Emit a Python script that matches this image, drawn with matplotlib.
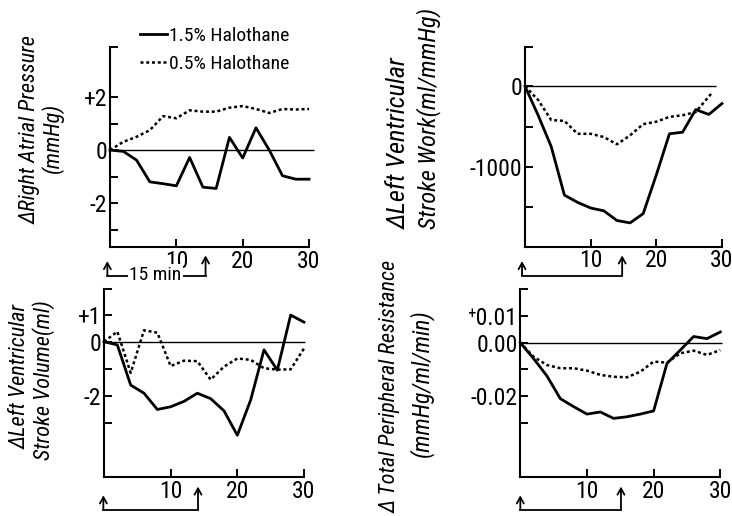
import matplotlib.pyplot as plt
from matplotlib.transforms import blended_transform_factory

plt.rcParams['font.family'] = ['Roboto Condensed', 'DejaVu Sans']

# minutes after start of halothane
minutes = [0, 2, 4, 6, 8, 10, 12, 14, 16, 18, 20, 22, 24, 26, 28, 30]
minutes_lvsw_low = [0, 2, 4, 6, 8, 10, 12, 14, 16, 18, 20, 22, 24, 26, 28.5]

# right atrial pressure (mmHg)
rap_high = [0, -0.05, -0.38, -1.2, -1.27, -1.35, -0.28, -1.4, -1.45, 0.48, -0.3, 0.84, 0.0, -0.97, -1.1, -1.1]
rap_low = [0, 0.31, 0.5, 0.75, 1.28, 1.2, 1.5, 1.45, 1.45, 1.6, 1.66, 1.55, 1.4, 1.55, 1.53, 1.55]

# left ventricular stroke work (ml/mmHg)
lvsw_high = [0, -360, -750, -1350, -1440, -1510, -1545, -1665, -1695, -1580, -1100, -590, -570, -290, -350, -215]
lvsw_low = [0, -170, -420, -430, -590, -590, -630, -720, -610, -470, -440, -380, -360, -320, -80]

# left ventricular stroke volume (ml)
lvsv_high = [0, -0.12, -1.6, -1.9, -2.5, -2.4, -2.2, -1.9, -2.1, -2.55, -3.45, -2.15, -0.3, -1.05, 0.98, 0.72]
lvsv_low = [0, 0.37, -1.15, 0.42, 0.33, -0.9, -0.7, -0.72, -1.4, -0.92, -0.62, -0.67, -0.98, -1.03, -1.02, -0.25]

# total peripheral resistance (mmHg/ml/min)
tpr_high = [0, -0.006, -0.0125, -0.021, -0.024, -0.0268, -0.026, -0.0284, -0.0278, -0.0268, -0.0256, -0.0078, -0.0028, 0.0023, 0.0015, 0.004]
tpr_low = [0, -0.0053, -0.0084, -0.0096, -0.0096, -0.0105, -0.0121, -0.0128, -0.013, -0.0109, -0.0071, -0.0075, -0.004, -0.003, -0.0046, -0.0028]

xtick_vals = [10, 20, 30]
xtick_labels = ['10', '20', '30']

fig = plt.figure(figsize=(7.32, 5.16), dpi=100)

panels = [
    dict(rect=[0.1503, 0.5213, 0.2719, 0.3876], ylim=(-3.66, 3.89),
         x_low=minutes, high=rap_high, low=rap_low,
         yt=[2, 0, -2], ytl=['+2', '0', '-2'], ym=[1, -1, -3, 3.89], zero_end=30.8,
         arrows=(-0.4, 14.4)),
    dict(rect=[0.7172, 0.5219, 0.2691, 0.3876], ylim=(-1990, 490),
         x_low=minutes_lvsw_low, high=lvsw_high, low=lvsw_low,
         yt=[0, -1000], ytl=['0', '-1000'], ym=[-500, -1500, 490], zero_end=29.1,
         arrows=(-0.45, 14.8)),
    dict(rect=[0.1421, 0.075, 0.2732, 0.3643], ylim=(-5.0, 1.93),
         x_low=minutes, high=lvsv_high, low=lvsv_low,
         yt=[1, 0, -2], ytl=['+1', '0', '-2'], ym=[-1, -3, 1.93], zero_end=30.2,
         arrows=(-0.1, 14.1)),
    dict(rect=[0.7108, 0.075, 0.2732, 0.3643], ylim=(-0.0505, 0.02),
         x_low=minutes, high=tpr_high, low=tpr_low,
         yt=[0.01, 0.0, -0.02], ytl=['\u207a0.01', '0.00', '-0.02'], ym=[-0.01, -0.03, 0.02], zero_end=30.25,
         arrows=(0.0, 15.1)),
]

axes = []
for i, p in enumerate(panels):
    ax = fig.add_axes(p['rect'])
    ax.plot(minutes, p['high'], color='black', lw=2.0, clip_on=False,
            label='1.5% Halothane')
    ax.plot(p['x_low'], p['low'], color='black', lw=1.8, ls=(0, (1.2, 1.1)),
            clip_on=False, label='0.5% Halothane')
    ax.hlines(0, 0, p['zero_end'], color='black', lw=1.0, clip_on=False)
    ax.set_xlim(0, 30)
    ax.set_ylim(*p['ylim'])
    ax.set_xticks(xtick_vals)
    ax.set_xticklabels(xtick_labels)
    ax.set_yticks(p['yt'])
    ax.set_yticklabels(p['ytl'])
    ax.set_yticks(p['ym'], minor=True)
    for s in ['top', 'right']:
        ax.spines[s].set_visible(False)
    for s in ['left', 'bottom']:
        ax.spines[s].set_linewidth(1.5)
    ax.tick_params(which='both', direction='in', length=6, width=1.4,
                   labelsize=17, pad=2)
    axes.append(ax)

    # "halothane on / off" bracket under each x axis
    tr = blended_transform_factory(ax.transData, fig.transFigure)
    x0, x1 = p['arrows']
    if i < 2:
        yl, yr, yb = 0.494, 0.505, 0.466
    else:
        yl, yr, yb = 0.040, 0.057, 0.012
    ax.plot([x0, x1], [yb, yb], color='black', lw=1.3, transform=tr, clip_on=False)
    for xa, ya in [(x0, yl), (x1, yr)]:
        ax.annotate('', xy=(xa, ya), xytext=(xa, yb), xycoords=tr, textcoords=tr,
                    arrowprops=dict(arrowstyle='->,head_length=0.45,head_width=0.25',
                                    lw=1.3, color='black', shrinkA=0, shrinkB=0))

ax1 = axes[0]
ax1.text(6.8, 0.468, '15 min', transform=blended_transform_factory(ax1.transData, fig.transFigure),
         ha='center', va='center', fontsize=14,
         bbox=dict(facecolor='white', edgecolor='none', pad=1))

ax1.legend(loc='upper left', bbox_to_anchor=(0.191, 0.948), bbox_transform=fig.transFigure,
           frameon=False, fontsize=14, handlelength=1.4, handletextpad=0.1,
           borderpad=0, borderaxespad=0, labelspacing=0.5)

lab = dict(rotation=90, fontsize=16, style='italic')
fig.text(0.041, 0.748, '\u0394Right Atrial Pressure', ha='center', va='center', **lab)
fig.text(0.071, 0.733, '(mmHg)', ha='center', va='center', **lab)
fig.text(0.545, 0.556, '\u0394Left Ventricular', ha='left', va='center',
         rotation=90, fontsize=19, style='italic', rotation_mode='anchor')
fig.text(0.585, 0.556, 'Stroke Work(ml/mmHg)', ha='left', va='center',
         rotation=90, fontsize=17.5, style='italic', rotation_mode='anchor')
fig.text(0.027, 0.271, '\u0394Left Ventricular', ha='center', va='center', **lab)
fig.text(0.059, 0.264, 'Stroke Volume(ml)', ha='center', va='center', **lab)
fig.text(0.533, 0.252, '\u0394 Total Peripheral Resistance', ha='center', va='center', **lab)
fig.text(0.576, 0.258, '(mmHg/ml/min)', ha='center', va='center', fontsize=17,
         rotation=90, style='italic')

fig.savefig('out.png', dpi=100)
